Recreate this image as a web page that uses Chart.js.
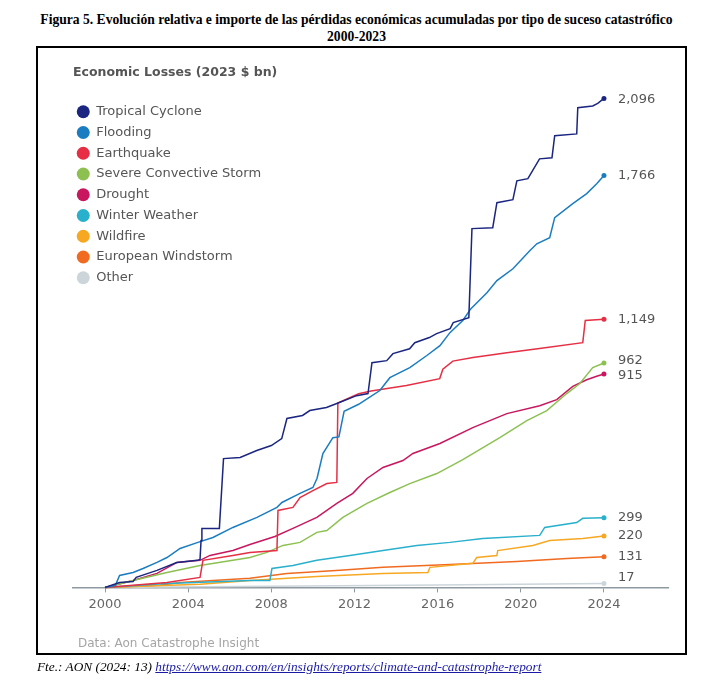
<!DOCTYPE html>
<html>
<head>
<meta charset="utf-8">
<title>Economic Losses by peril</title>
<script src="https://cdn.jsdelivr.net/npm/chart.js@4.4.0/dist/chart.umd.min.js"></script>
<style>
  body { margin: 0; background: #fff; width: 713px; height: 688px; position: relative; overflow: hidden; }
  .fig-title { position: absolute; left: 0; top: 11px; width: 713px; text-align: center;
    font: bold 13.6px/17px "Liberation Serif", "Times New Roman", serif; color: #000; }
  .frame { position: absolute; left: 36px; top: 46px; width: 651px; height: 609px;
    border: 2px solid #000; box-sizing: border-box; }
  .chart-box { position: absolute; left: 0; top: 0; width: 647px; height: 605px; }
  .source { position: absolute; left: 40px; top: 588px; font: 12px/14px "DejaVu Sans", Arial, sans-serif; color: #a5a5a5; }
  .footer { position: absolute; left: 37px; top: 659px; font: italic 13.3px/16px "Liberation Serif", "Times New Roman", serif; color: #000; }
  .footer a { color: #1a1aa6; }
</style>
</head>
<body>
<div class="fig-title">Figura 5. Evolución relativa e importe de las pérdidas económicas acumuladas por tipo de suceso catastrófico<br>2000-2023</div>
<div class="frame">
  <div class="chart-box"><canvas id="lossChart"></canvas></div>
  <div class="source">Data: Aon Catastrophe Insight</div>
</div>
<div class="footer">Fte.: AON (2024: 13) <a href="https://www.aon.com/en/insights/reports/climate-and-catastrophe-report">https://www.aon.com/en/insights/reports/climate-and-catastrophe-report</a></div>

<script>
// cumulative economic losses, 2023 $ bn
const seriesNames = ['Tropical Cyclone', 'Flooding', 'Earthquake', 'Severe Convective Storm', 'Drought',
  'Winter Weather', 'Wildfire', 'European Windstorm', 'Other'];
const xTickYears = [2000, 2004, 2008, 2012, 2016, 2020, 2024];

const tropicalCycloneYears = [2000, 2000.7, 2001.35, 2001.5, 2002.5, 2003.45, 2004.45, 2004.57, 2004.62, 2004.66,
  2005.5, 2005.7, 2006.5, 2007.3, 2008.0, 2008.5, 2008.75, 2009.5, 2009.85, 2010.65, 2011.15, 2012.1, 2012.65,
  2012.84, 2013.55, 2013.85, 2014.65, 2014.9, 2015.6, 2015.95, 2016.6, 2016.75, 2017.5, 2017.65, 2018.65, 2018.85,
  2019.62, 2019.81, 2020.34, 2020.9, 2021.5, 2021.63, 2022.69, 2022.74, 2023.46, 2023.7, 2024];
const tropicalCycloneLosses = [0, 21, 25, 43, 73, 107, 116, 120, 201, 253,
  253, 552, 557, 587, 608, 638, 724, 737, 758, 771, 788, 822, 831,
  963, 972, 1002, 1023, 1049, 1071, 1088, 1109, 1135, 1156, 1538, 1542, 1649,
  1662, 1743, 1752, 1837, 1842, 1936, 1944, 2056, 2064, 2075, 2096];

const floodingYears = [2000, 2000.5, 2000.7, 2001.35, 2001.83, 2002.5, 2002.98, 2003.61, 2004.47, 2005.19,
  2006.15, 2007.31, 2008.27, 2008.51, 2009.38, 2010.0, 2010.2, 2010.48, 2010.96, 2011.25, 2011.5, 2012.2, 2012.64,
  2013.22, 2013.7, 2014.66, 2015.48, 2016.11, 2016.59, 2017.21, 2017.6, 2018.37, 2018.85, 2019.62, 2020.43,
  2020.77, 2021.39, 2021.63, 2022.5, 2023.17, 2023.65, 2024];
const floodingLosses = [0, 9, 51, 64, 81, 107, 128, 167, 193, 214,
  257, 300, 343, 364, 403, 428, 468, 574, 642, 645, 755, 785, 810,
  844, 899, 942, 994, 1036, 1092, 1144, 1195, 1263, 1315, 1366, 1443,
  1473, 1499, 1585, 1645, 1688, 1730, 1766];

const earthquakeYears = [2000, 2002.98, 2004.57, 2004.71, 2006.15, 2006.97, 2008.27, 2008.32, 2009.04, 2009.38,
  2010.0, 2010.67, 2011.15, 2011.2, 2012.2, 2012.8, 2014.5, 2016.1, 2016.25, 2016.73, 2017.7, 2019.33, 2020.9,
  2022.98, 2023.1, 2024];
const earthquakeLosses = [0, 21, 43, 116, 137, 150, 158, 330, 343, 385,
  415, 445, 450, 790, 830, 842, 865, 895, 935, 970, 985, 1006, 1024,
  1049, 1144, 1149];

const convectiveYears = [2000, 2001.35, 2002.98, 2004.57, 2006.15, 2006.97, 2007.79, 2008.56, 2009.38, 2010.19,
  2010.67, 2011.44, 2012.6, 2013.7, 2014.66, 2015.96, 2017.21, 2018.99, 2020.29, 2021.25, 2022.21, 2022.84,
  2023.46, 2024];
const convectiveLosses = [0, 30, 64, 94, 116, 128, 150, 180, 193, 236,
  244, 300, 360, 407, 445, 488, 548, 642, 715, 758, 831, 874,
  942, 962];

const droughtYears = [2000, 2001.35, 2002.5, 2003.46, 2004.57, 2005.05, 2006.15, 2006.97, 2008.17, 2009.04,
  2010.19, 2011.15, 2011.92, 2012.6, 2013.37, 2014.33, 2014.81, 2016.11, 2017.69, 2019.33, 2020.91, 2021.73,
  2022.5, 2023.17, 2023.65, 2024];
const droughtLosses = [0, 30, 60, 107, 116, 137, 158, 184, 218, 253,
  300, 360, 403, 467, 514, 544, 574, 617, 685, 745, 779, 805,
  862, 890, 905, 915];

const winterYears = [2000, 2002.98, 2006.97, 2007.93, 2008.03, 2009.04, 2010.19, 2011.78, 2013.37, 2015.0,
  2016.59, 2018.17, 2020.91, 2021.15, 2022.69, 2022.98, 2024];
const winterLosses = [0, 17, 30, 30, 81, 94, 116, 137, 158, 180,
  193, 210, 223, 257, 278, 296, 299];

const wildfireYears = [2000, 2004.57, 2006.97, 2010.19, 2013.37, 2015.53, 2015.63, 2017.69, 2017.88, 2018.85,
  2018.89, 2020.58, 2021.39, 2022.98, 2024];
const wildfireLosses = [0, 13, 30, 47, 60, 64, 86, 103, 128, 137,
  158, 180, 201, 210, 220];

const windstormYears = [2000, 2002.64, 2003.61, 2006.97, 2008.75, 2011.3, 2013.37, 2016.59, 2019.81, 2022.21, 2024];
const windstormLosses = [0, 9, 21, 39, 60, 73, 86, 98, 111, 124, 131];

const otherYears = [2000, 2008, 2016, 2024];
const otherLosses = [0, 5, 10, 17];

const seriesYears = [tropicalCycloneYears, floodingYears, earthquakeYears, convectiveYears, droughtYears,
  winterYears, wildfireYears, windstormYears, otherYears];
const seriesLosses = [tropicalCycloneLosses, floodingLosses, earthquakeLosses, convectiveLosses, droughtLosses,
  winterLosses, wildfireLosses, windstormLosses, otherLosses];

const seriesColors = ['#1a2680', '#1b7dc1', '#e62e44', '#8cc152', '#c8175e', '#29b0cc', '#f7a823', '#f06a20', '#cbd5da'];

function toPoints(years, losses) {
  return years.map((x, i) => ({ x: x, y: losses[i] }));
}

// value printed just right of each line's end dot
const endLabels = {
  id: 'endLabels',
  afterDatasetsDraw(chart, args, opts) {
    const ctx = chart.ctx;
    ctx.save();
    ctx.font = '13px "DejaVu Sans", Arial, sans-serif';
    ctx.fillStyle = '#555';
    ctx.textBaseline = 'middle';
    ctx.textAlign = 'left';
    chart.data.datasets.forEach((ds, i) => {
      const pts = chart.getDatasetMeta(i).data;
      const last = pts[pts.length - 1];
      const value = ds.data[ds.data.length - 1].y;
      ctx.fillText(value.toLocaleString('en-US'), last.x + opts.gap, last.y + opts.nudge[i]);
    });
    ctx.restore();
  }
};

// chartArea legend: pin it to the top of the plot and a few px left of its edge
const legendShift = {
  id: 'legendShift',
  afterLayout(chart, args, opts) {
    const lg = chart.legend;
    if (!lg) return;
    const h = lg.bottom - lg.top;
    lg.top = chart.chartArea.top;
    lg.bottom = lg.top + h;
    lg.left -= opts.dx;
    lg.right -= opts.dx;
  }
};

Chart.defaults.font.family = '"DejaVu Sans", Arial, sans-serif';

const datasets = seriesNames.map((name, i) => ({
  label: name,
  data: toPoints(seriesYears[i], seriesLosses[i]),
  borderColor: seriesColors[i],
  backgroundColor: seriesColors[i],
  pointBackgroundColor: seriesColors[i],
  borderWidth: 1.5,
  tension: 0,
  clip: false,
  pointRadius: ctx => (ctx.dataIndex === seriesYears[i].length - 1 ? 2.5 : 0),
  pointBorderWidth: 0
}));

new Chart(document.getElementById('lossChart'), {
  type: 'line',
  data: { datasets: datasets },
  options: {
    responsive: true,
    maintainAspectRatio: false,
    animation: false,
    layout: { padding: { left: 35, right: 17, top: 0, bottom: 37 } },
    scales: {
      x: {
        type: 'linear',
        min: 1998.46,
        max: 2027.08,
        afterBuildTicks: scale => { scale.ticks = xTickYears.map(v => ({ value: v })); },
        grid: { drawOnChartArea: false, drawTicks: true, tickLength: 5, color: '#8d999f' },
        border: { display: true, color: '#8d999f', width: 1.5 },
        ticks: { color: '#666', font: { size: 13 }, padding: 4, maxRotation: 0, autoSkip: false,
          callback: v => String(v) }
      },
      y: { display: false, min: 0, max: 2100 }
    },
    plugins: {
      title: {
        display: true,
        text: 'Economic Losses (2023 $ bn)',
        align: 'start',
        color: '#555',
        font: { size: 12.5, weight: 'bold' },
        padding: { top: 17, bottom: 17.5 }
      },
      legend: {
        position: 'chartArea',
        align: 'start',
        labels: {
          usePointStyle: true,
          pointStyle: 'circle',
          boxHeight: 9.2,
          pointStyleWidth: 13,
          padding: 7.75,
          color: '#555',
          font: { size: 13 }
        }
      },
      tooltip: { enabled: false },
      endLabels: { gap: 14, nudge: [1, 0, 0, -2, 2, 0, 0, 0, -6] },
      legendShift: { dx: 4 }
    }
  },
  plugins: [endLabels, legendShift]
});
</script>
</body>
</html>
